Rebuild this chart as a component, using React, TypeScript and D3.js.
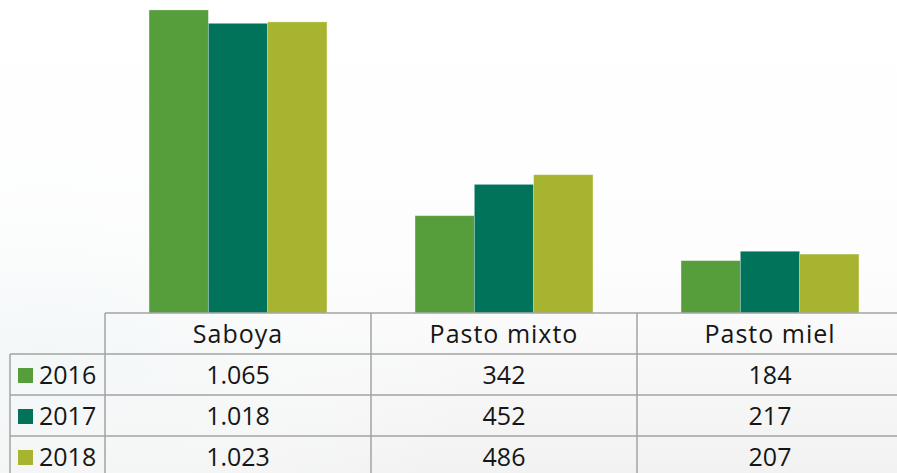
import React from 'react';
import * as d3 from 'd3';

const categories = ['Saboya', 'Pasto mixto', 'Pasto miel'];
const years = ['2016', '2017', '2018'];
const values2016 = [1065, 342, 184];
const values2017 = [1018, 452, 217];
const values2018 = [1023, 486, 207];
const labels2016 = ['1.065', '342', '184'];
const labels2017 = ['1.018', '452', '217'];
const labels2018 = ['1.023', '486', '207'];
const colors = ['#559e3b', '#00735a', '#a7b42f'];

const series = [values2016, values2017, values2018];
const labels = [labels2016, labels2017, labels2018];

const W = 897;
const H = 473;
const baseY = 313;
const rowH = 41;
const legendLeft = 10;
const font = "'Open Sans', sans-serif";

export default function App() {
    const x0 = d3.scaleBand().domain(categories).range([105, 903]).padding(0);
    const x1 = d3
        .scaleBand()
        .domain(years)
        .range([0, x0.bandwidth()])
        .paddingInner(0)
        .paddingOuter(0.743);
    const y = d3.scaleLinear().domain([0, 1100]).range([baseY, 0]);

    const lineColor = '#a3a3a3';
    const tableBottom = baseY + rowH * 4 + 5;

    return (
        <svg
            width={W}
            height={H}
            style={{ position: 'fixed', left: 0, top: 0, display: 'block' }}
        >
            <defs>
                <linearGradient id="bg" x1="0" y1="0" x2="0" y2="1">
                    <stop offset="0" stopColor="#ffffff" />
                    <stop offset="0.55" stopColor="#fdfdfd" />
                    <stop offset="1" stopColor="#f2f2f2" />
                </linearGradient>
                <radialGradient id="tint" cx="0.05" cy="0.75" r="0.5">
                    <stop offset="0" stopColor="#f1f7f8" stopOpacity="0.8" />
                    <stop offset="1" stopColor="#ffffff" stopOpacity="0" />
                </radialGradient>
            </defs>
            <rect width={W} height={H} fill="url(#bg)" />
            <rect width={W} height={H} fill="url(#tint)" />

            {/* bars */}
            {categories.map((c, ci) => (
                <g key={c} transform={`translate(${x0(c)},0)`}>
                    {years.map((yr, si) => (
                        <rect
                            key={yr}
                            x={x1(yr)}
                            y={y(series[si][ci])}
                            width={x1.bandwidth()}
                            height={baseY - y(series[si][ci])}
                            fill={colors[si]}
                            stroke="#ffffff"
                            strokeOpacity={0.35}
                            strokeWidth={0.8}
                        />
                    ))}
                </g>
            ))}

            {/* data table */}
            <g fill="none" stroke={lineColor} strokeWidth={1.5}>
                <line x1={105} x2={W} y1={baseY} y2={baseY} />
                {years.map((yr, i) => (
                    <line
                        key={yr}
                        x1={legendLeft}
                        x2={W}
                        y1={baseY + rowH * (i + 1)}
                        y2={baseY + rowH * (i + 1)}
                    />
                ))}
                <line x1={legendLeft} x2={legendLeft} y1={baseY + rowH} y2={tableBottom} />
                {categories.map(c => (
                    <line key={c} x1={x0(c)} x2={x0(c)} y1={baseY} y2={tableBottom} />
                ))}
            </g>

            <g fontFamily={font} fontSize={25} fill="#161616">
                {categories.map(c => (
                    <text
                        key={c}
                        x={x0(c)! + x0.bandwidth() / 2}
                        y={baseY + 30}
                        textAnchor="middle"
                        letterSpacing={1}
                    >
                        {c}
                    </text>
                ))}
                {years.map((yr, si) => (
                    <g key={yr}>
                        <rect
                            x={18}
                            y={baseY + rowH * (si + 1) + 14}
                            width={15}
                            height={15}
                            fill={colors[si]}
                        />
                        <text x={39} y={baseY + rowH * (si + 2) - 11}>
                            {yr}
                        </text>
                        {categories.map((c, ci) => (
                            <text
                                key={c}
                                x={x0(c)! + x0.bandwidth() / 2}
                                y={baseY + rowH * (si + 2) - 11}
                                textAnchor="middle"
                            >
                                {labels[si][ci]}
                            </text>
                        ))}
                    </g>
                ))}
            </g>
        </svg>
    );
}
